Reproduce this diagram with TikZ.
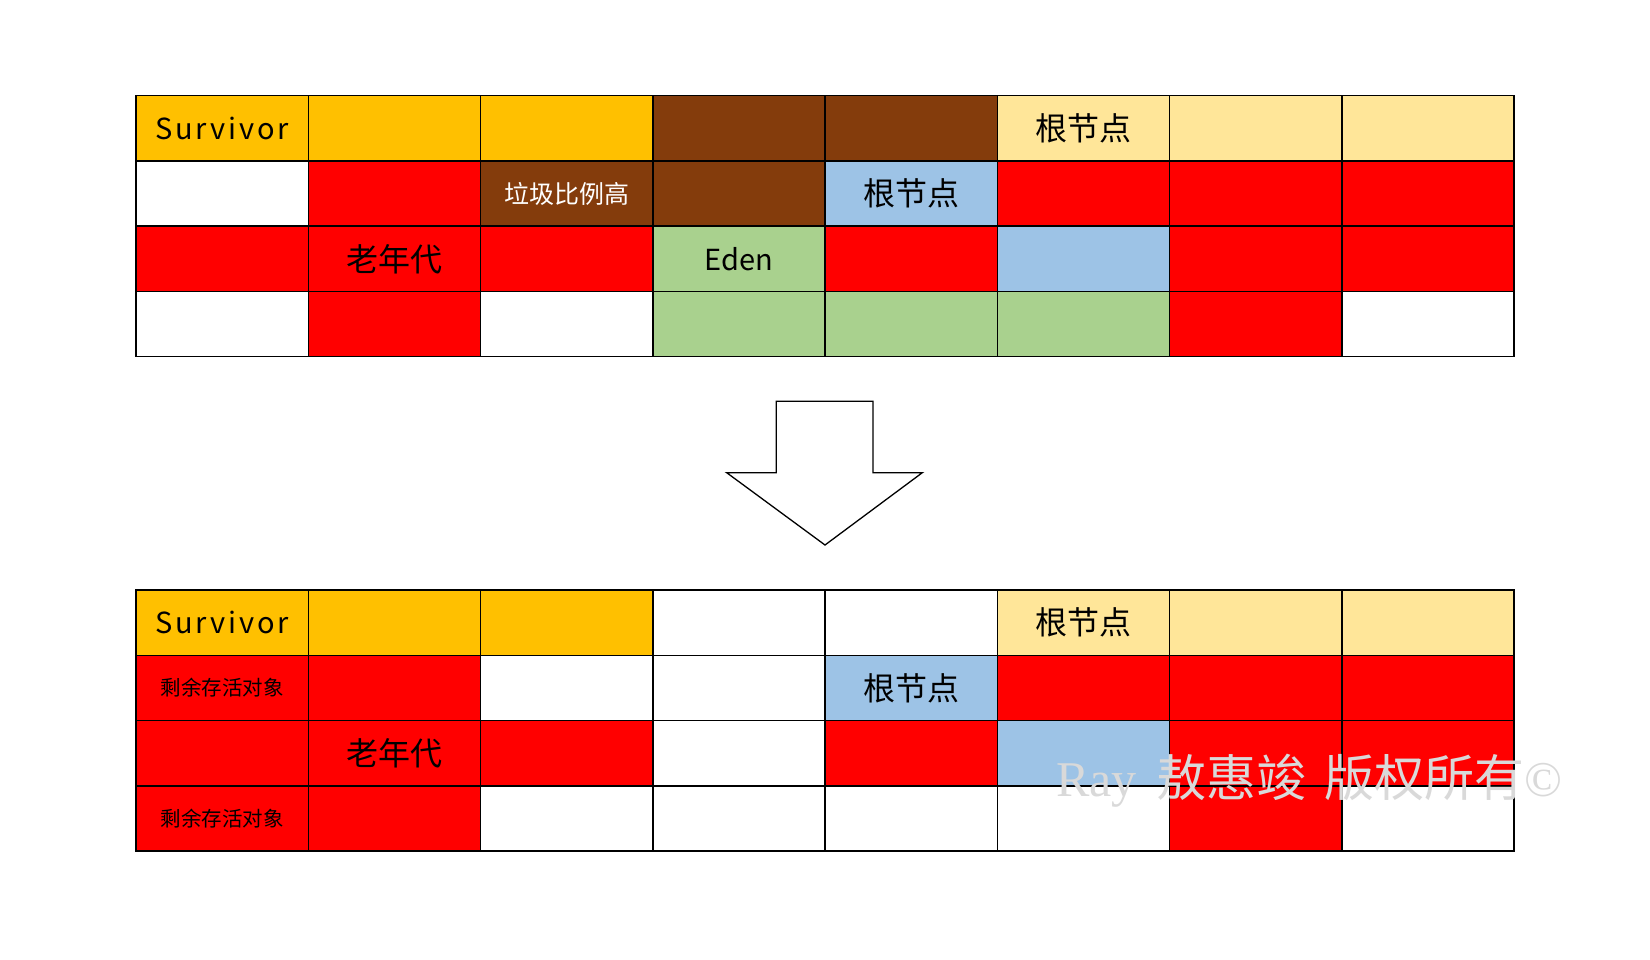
\documentclass[tikz,border=0pt]{standalone}
\usepackage{fontspec}
\setmainfont{Noto Sans CJK SC}
\newfontfamily\survfont{Noto Sans CJK SC}[LetterSpace=10]
\newfontfamily\wmserif{Liberation Serif}
\definecolor{cO}{HTML}{FFC000}
\definecolor{cB}{HTML}{843C0C}
\definecolor{cY}{HTML}{FFE699}
\definecolor{cR}{HTML}{FF0000}
\definecolor{cL}{HTML}{9DC3E6}
\definecolor{cG}{HTML}{A9D18E}
\definecolor{cW}{HTML}{FFFFFF}
\definecolor{cWM}{HTML}{D9D9D9}
\begin{document}
\begin{tikzpicture}[x=1pt,y=-1pt,
  cell/.style={draw=black, line width=1.5pt, minimum width=172.25pt, minimum height=65.25pt, inner sep=0pt, outer sep=0pt},
  big/.style={font=\fontsize{32}{36}\selectfont},
  lat/.style={font=\survfont\fontsize{29}{34}\selectfont},
  small/.style={font=\fontsize{25}{30}\selectfont},
  tiny/.style={font=\fontsize{20.5}{24}\selectfont}]
\useasboundingbox (0,0) rectangle (1650,960);
% top grid
\foreach \row [count=\r from 0] in {{cO,cO,cO,cB,cB,cY,cY,cY},{cW,cR,cB,cB,cL,cR,cR,cR},{cR,cR,cR,cG,cR,cL,cR,cR},{cW,cR,cW,cG,cG,cG,cR,cW}} {
  \foreach \c [count=\k from 0] in \row {
    \node[cell, fill=\c] (t\r\k) at (136+86.125+\k*172.25, 95.7+32.625+\r*65.25) {};
  }
}
% bottom grid
\foreach \row [count=\r from 0] in {{cO,cO,cO,cW,cW,cY,cY,cY},{cR,cR,cW,cW,cL,cR,cR,cR},{cR,cR,cR,cW,cR,cL,cR,cR},{cR,cR,cW,cW,cW,cW,cR,cW}} {
  \foreach \c [count=\k from 0] in \row {
    \node[cell, fill=\c] (b\r\k) at (136+86.125+\k*172.25, 590+32.625+\r*65.25) {};
  }
}
% labels top
\node[lat] (ts) at (t00) {Survivor};
\node[big] (tr1) at (t05) {根节点};
\node[small, text=white] (tg) at (t12) {垃圾比例高};
\node[big] (tr2) at (t14) {根节点};
\node[big] (to) at (t21) {老年代};
\node[font=\fontsize{29}{34}\selectfont] (te) at (t23) {Eden};
% labels bottom
\node[lat] (bs) at (b00) {Survivor};
\node[big] (br1) at (b05) {根节点};
\node[tiny] (bl1) at (b10) {剩余存活对象};
\node[big] (br2) at (b14) {根节点};
\node[big] (bo) at (b21) {老年代};
\node[tiny] (bl2) at (b30) {剩余存活对象};
% arrow
\draw[line width=1.3pt, fill=white] (776.3,401.3) -- (873,401.3) -- (873,472.7) -- (922.3,472.7) -- (825,545) -- (726.7,472.7) -- (776.3,472.7) -- cycle;
% watermark
\node[anchor=base west, inner sep=0pt, text=cWM, font=\fontsize{50}{54}\selectfont] (wm) at (1056,796) {{\wmserif Ray}\hspace{20pt}敖惠竣\hspace{18pt}版权所有{\wmserif ©}};
\end{tikzpicture}
\end{document}
